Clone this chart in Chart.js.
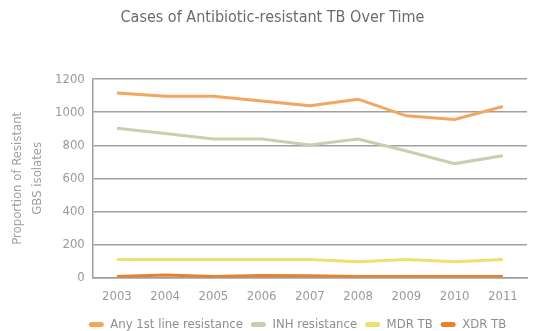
<!DOCTYPE html>
<html lang="en">
<head>
    <meta charset="UTF-8">
    <title>Cases of Antibiotic-resistant TB Over Time</title>
    <script src="https://cdn.jsdelivr.net/npm/chart.js"></script>
    <style>
        html, body { margin: 0; padding: 0; background: #ffffff; }
        .wrap { width: 541px; height: 331px; position: relative; }
    </style>
</head>
<body>
    <div class="wrap">
        <canvas id="tbChart" width="541" height="331"></canvas>
    </div>

    <script>
        const years = ['2003', '2004', '2005', '2006', '2007', '2008', '2009', '2010', '2011'];
        const anyFirstLine = [1117, 1097, 1097, 1068, 1040, 1079, 978, 956, 1035];
        const inhResistance = [903, 871, 838, 838, 802, 838, 765, 689, 737];
        const mdrTB = [109, 109, 109, 109, 109, 95, 109, 95, 109];
        const xdrTB = [5, 15, 5, 12, 10, 5, 5, 5, 5];

        const FONT = "'Liberation Sans Narrow', 'DejaVu Sans Condensed', sans-serif";

        function series(label, data, color) {
            return {
                label: label,
                data: data,
                borderColor: color,
                backgroundColor: color,
                borderWidth: 3,
                pointRadius: 0,
                tension: 0,
                fill: false
            };
        }

        // move title and legend boxes after layout: title sits over the page centre,
        // legend row sits a bit right and up, under the plot
        const boxShift = {
            id: 'boxShift',
            afterLayout(chart) {
                const t = chart.titleBlock;
                t.left += 11;
                t.right += 11;
                const lg = chart.legend;
                lg.left += 36;
                lg.right += 36;
                lg.top -= 5;
                lg.bottom -= 5;
            }
        };

        new Chart(document.getElementById('tbChart'), {
            type: 'line',
            data: {
                labels: years,
                datasets: [
                    series('Any 1st line resistance', anyFirstLine, '#f2a660'),
                    series('INH resistance', inhResistance, '#c5d0ae'),
                    series('MDR TB', mdrTB, '#ebe16e'),
                    series('XDR TB', xdrTB, '#e8802c')
                ]
            },
            plugins: [boxShift],
            options: {
                responsive: false,
                animation: false,
                layout: { padding: { left: -4, right: 14, top: 4, bottom: -15 } },
                plugins: {
                    title: {
                        display: true,
                        text: 'Cases of Antibiotic-resistant TB Over Time',
                        color: '#6b6b6b',
                        font: { family: FONT, size: 16, weight: 'normal' },
                        padding: { top: 4, bottom: 52 }
                    },
                    legend: {
                        position: 'bottom',
                        align: 'center',
                        labels: {
                            color: '#8e8e8e',
                            font: { family: FONT, size: 13 },
                            boxWidth: 15,
                            boxHeight: 5,
                            padding: 8,
                            useBorderRadius: true,
                            borderRadius: 2.5,
                            generateLabels(chart) {
                                return chart.data.datasets.map((ds, i) => ({
                                    text: ds.label,
                                    fillStyle: ds.borderColor,
                                    strokeStyle: ds.borderColor,
                                    lineWidth: 0,
                                    fontColor: '#8e8e8e',
                                    borderRadius: 2.5,
                                    datasetIndex: i,
                                    hidden: false
                                }));
                            }
                        }
                    },
                    tooltip: { enabled: false }
                },
                scales: {
                    x: {
                        offset: true,
                        grid: { display: false, drawTicks: false },
                        border: { display: true, color: '#a0a0a0', width: 1.5 },
                        ticks: {
                            color: '#9a9a9a',
                            font: { family: FONT, size: 13 },
                            padding: 11
                        }
                    },
                    y: {
                        min: 0,
                        max: 1200,
                        grid: { color: '#a0a0a0', lineWidth: 1.5, drawTicks: false },
                        border: { display: true, color: '#a0a0a0', width: 1.5 },
                        ticks: {
                            stepSize: 200,
                            color: '#9a9a9a',
                            font: { family: FONT, size: 13 },
                            padding: 8,
                            callback: (v) => String(v)
                        },
                        title: {
                            display: true,
                            text: ['Proportion of Resistant', 'GBS isolates'],
                            color: '#a0a0a0',
                            font: { family: FONT, size: 13, lineHeight: 1.5 },
                            padding: { top: 12, bottom: 0 }
                        }
                    }
                }
            }
        });
    </script>
</body>
</html>
